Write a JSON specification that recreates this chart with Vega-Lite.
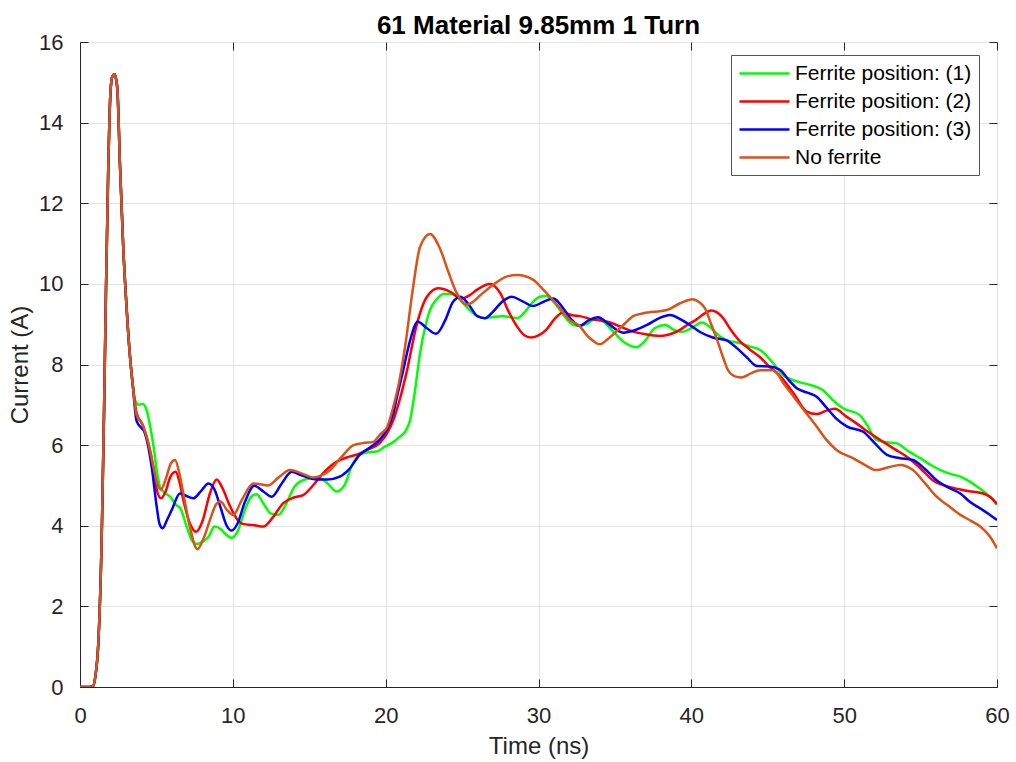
{
  "$schema": "https://vega.github.io/schema/vega-lite/v6.json",
  "width": 917,
  "height": 645,
  "autosize": "none",
  "padding": {"left": 80, "top": 42, "right": 19, "bottom": 75},
  "background": "white",
  "config": {
    "font": "Liberation Sans",
    "view": {"stroke": "#262626", "strokeWidth": 1},
    "axis": {"labelColor": "#262626", "titleColor": "#262626", "domainColor": "#262626", "tickColor": "#262626", "gridColor": "#e3e3e3", "labelFont": "Liberation Sans", "titleFont": "Liberation Sans", "titleFontWeight": "normal"}
  },
  "title": {"text": "61 Material 9.85mm 1 Turn", "fontSize": 26, "fontWeight": "bold", "color": "#000000", "font": "Liberation Sans", "offset": -8, "anchor": "middle"},
  "resolve": {"axis": {"x": "independent", "y": "independent"}},
  "data": {"values": [
    {"series":"Ferrite position: (1)","time":0,"current":0},{"series":"Ferrite position: (1)","time":0.6,"current":0},{"series":"Ferrite position: (1)","time":0.85,"current":0.02},{"series":"Ferrite position: (1)","time":1.0,"current":0.25},{"series":"Ferrite position: (1)","time":1.2,"current":1.1},{"series":"Ferrite position: (1)","time":1.42,"current":3.7},{"series":"Ferrite position: (1)","time":1.57,"current":6.75},{"series":"Ferrite position: (1)","time":1.7,"current":9.85},{"series":"Ferrite position: (1)","time":1.85,"current":12.9},{"series":"Ferrite position: (1)","time":2.0,"current":14.8},{"series":"Ferrite position: (1)","time":2.12,"current":15.15},{"series":"Ferrite position: (1)","time":2.25,"current":15.2},{"series":"Ferrite position: (1)","time":2.35,"current":15.1},{"series":"Ferrite position: (1)","time":2.45,"current":14.8},{"series":"Ferrite position: (1)","time":2.62,"current":12.9},{"series":"Ferrite position: (1)","time":2.83,"current":10.9},{"series":"Ferrite position: (1)","time":3.05,"current":9.4},{"series":"Ferrite position: (1)","time":3.27,"current":8.2},{"series":"Ferrite position: (1)","time":3.45,"current":7.5},
    {"series":"Ferrite position: (1)","time":3.6,"current":7.12},{"series":"Ferrite position: (1)","time":3.85,"current":7.0},{"series":"Ferrite position: (1)","time":4.1,"current":7.02},{"series":"Ferrite position: (1)","time":4.36,"current":6.87},{"series":"Ferrite position: (1)","time":4.6,"current":6.45},{"series":"Ferrite position: (1)","time":4.8,"current":6.0},{"series":"Ferrite position: (1)","time":5.05,"current":5.3},{"series":"Ferrite position: (1)","time":5.25,"current":4.95},{"series":"Ferrite position: (1)","time":5.6,"current":4.8},{"series":"Ferrite position: (1)","time":5.9,"current":4.72},{"series":"Ferrite position: (1)","time":6.33,"current":4.5},{"series":"Ferrite position: (1)","time":6.54,"current":4.45},{"series":"Ferrite position: (1)","time":6.98,"current":3.98},{"series":"Ferrite position: (1)","time":7.3,"current":3.65},{"series":"Ferrite position: (1)","time":7.63,"current":3.55},{"series":"Ferrite position: (1)","time":8.0,"current":3.6},{"series":"Ferrite position: (1)","time":8.4,"current":3.72},{"series":"Ferrite position: (1)","time":8.8,"current":3.98},{"series":"Ferrite position: (1)","time":9.2,"current":3.92},{"series":"Ferrite position: (1)","time":9.5,"current":3.8},{"series":"Ferrite position: (1)","time":9.92,"current":3.7},{"series":"Ferrite position: (1)","time":10.3,"current":3.85},{"series":"Ferrite position: (1)","time":10.8,"current":4.4},{"series":"Ferrite position: (1)","time":11.2,"current":4.72},{"series":"Ferrite position: (1)","time":11.56,"current":4.78},{"series":"Ferrite position: (1)","time":12.0,"current":4.55},{"series":"Ferrite position: (1)","time":12.5,"current":4.3},{"series":"Ferrite position: (1)","time":12.98,"current":4.27},{"series":"Ferrite position: (1)","time":13.5,"current":4.55},{"series":"Ferrite position: (1)","time":14.0,"current":4.95},{"series":"Ferrite position: (1)","time":14.6,"current":5.13},{"series":"Ferrite position: (1)","time":15.2,"current":5.18},{"series":"Ferrite position: (1)","time":15.7,"current":5.18},{"series":"Ferrite position: (1)","time":16.2,"current":5.05},{"series":"Ferrite position: (1)","time":16.8,"current":4.85},{"series":"Ferrite position: (1)","time":17.3,"current":5.0},{"series":"Ferrite position: (1)","time":17.8,"current":5.5},{"series":"Ferrite position: (1)","time":18.3,"current":5.76},{"series":"Ferrite position: (1)","time":18.8,"current":5.82},{"series":"Ferrite position: (1)","time":19.4,"current":5.84},{"series":"Ferrite position: (1)","time":19.9,"current":5.95},{"series":"Ferrite position: (1)","time":20.4,"current":6.05},{"series":"Ferrite position: (1)","time":20.9,"current":6.2},{"series":"Ferrite position: (1)","time":21.3,"current":6.35},{"series":"Ferrite position: (1)","time":21.6,"current":6.62},{"series":"Ferrite position: (1)","time":21.9,"current":7.3},{"series":"Ferrite position: (1)","time":22.25,"current":8.28},{"series":"Ferrite position: (1)","time":22.6,"current":8.95},{"series":"Ferrite position: (1)","time":22.9,"current":9.35},{"series":"Ferrite position: (1)","time":23.3,"current":9.6},{"series":"Ferrite position: (1)","time":23.8,"current":9.75},{"series":"Ferrite position: (1)","time":24.2,"current":9.75},{"series":"Ferrite position: (1)","time":24.6,"current":9.7},{"series":"Ferrite position: (1)","time":25.0,"current":9.55},{"series":"Ferrite position: (1)","time":25.5,"current":9.35},{"series":"Ferrite position: (1)","time":26.0,"current":9.2},{"series":"Ferrite position: (1)","time":26.5,"current":9.15},{"series":"Ferrite position: (1)","time":27.0,"current":9.18},{"series":"Ferrite position: (1)","time":27.7,"current":9.2},{"series":"Ferrite position: (1)","time":28.2,"current":9.17},{"series":"Ferrite position: (1)","time":28.6,"current":9.15},{"series":"Ferrite position: (1)","time":29.1,"current":9.3},{"series":"Ferrite position: (1)","time":29.66,"current":9.56},{"series":"Ferrite position: (1)","time":30.1,"current":9.68},{"series":"Ferrite position: (1)","time":30.5,"current":9.7},{"series":"Ferrite position: (1)","time":31.0,"current":9.55},{"series":"Ferrite position: (1)","time":31.4,"current":9.35},{"series":"Ferrite position: (1)","time":31.9,"current":9.1},{"series":"Ferrite position: (1)","time":32.3,"current":8.98},{"series":"Ferrite position: (1)","time":32.7,"current":8.96},{"series":"Ferrite position: (1)","time":33.15,"current":9.0},{"series":"Ferrite position: (1)","time":33.8,"current":9.15},{"series":"Ferrite position: (1)","time":34.3,"current":9.05},{"series":"Ferrite position: (1)","time":34.9,"current":8.81},{"series":"Ferrite position: (1)","time":35.6,"current":8.55},{"series":"Ferrite position: (1)","time":36.4,"current":8.43},{"series":"Ferrite position: (1)","time":37.0,"current":8.6},{"series":"Ferrite position: (1)","time":37.6,"current":8.9},{"series":"Ferrite position: (1)","time":38.3,"current":8.98},{"series":"Ferrite position: (1)","time":38.9,"current":8.85},{"series":"Ferrite position: (1)","time":39.4,"current":8.81},{"series":"Ferrite position: (1)","time":40.0,"current":8.9},{"series":"Ferrite position: (1)","time":40.7,"current":9.04},{"series":"Ferrite position: (1)","time":41.3,"current":8.9},{"series":"Ferrite position: (1)","time":41.9,"current":8.69},{"series":"Ferrite position: (1)","time":42.5,"current":8.58},{"series":"Ferrite position: (1)","time":43.2,"current":8.53},{"series":"Ferrite position: (1)","time":43.8,"current":8.45},{"series":"Ferrite position: (1)","time":44.5,"current":8.36},{"series":"Ferrite position: (1)","time":45.2,"current":8.1},{"series":"Ferrite position: (1)","time":46.0,"current":7.74},{"series":"Ferrite position: (1)","time":46.9,"current":7.58},{"series":"Ferrite position: (1)","time":47.8,"current":7.49},{"series":"Ferrite position: (1)","time":48.6,"current":7.37},{"series":"Ferrite position: (1)","time":49.3,"current":7.1},{"series":"Ferrite position: (1)","time":49.95,"current":6.91},{"series":"Ferrite position: (1)","time":51.0,"current":6.75},{"series":"Ferrite position: (1)","time":51.5,"current":6.5},{"series":"Ferrite position: (1)","time":52.1,"current":6.13},{"series":"Ferrite position: (1)","time":52.8,"current":6.07},{"series":"Ferrite position: (1)","time":53.4,"current":6.05},{"series":"Ferrite position: (1)","time":54.2,"current":5.85},{"series":"Ferrite position: (1)","time":55.0,"current":5.67},{"series":"Ferrite position: (1)","time":55.7,"current":5.5},{"series":"Ferrite position: (1)","time":56.3,"current":5.38},{"series":"Ferrite position: (1)","time":57.0,"current":5.28},{"series":"Ferrite position: (1)","time":57.6,"current":5.22},{"series":"Ferrite position: (1)","time":58.2,"current":5.1},{"series":"Ferrite position: (1)","time":58.7,"current":4.97},{"series":"Ferrite position: (1)","time":59.3,"current":4.8},{"series":"Ferrite position: (1)","time":60,"current":4.55},
    {"series":"Ferrite position: (2)","time":0,"current":0},{"series":"Ferrite position: (2)","time":0.6,"current":0},{"series":"Ferrite position: (2)","time":0.85,"current":0.02},{"series":"Ferrite position: (2)","time":1.0,"current":0.25},{"series":"Ferrite position: (2)","time":1.2,"current":1.1},{"series":"Ferrite position: (2)","time":1.42,"current":3.7},{"series":"Ferrite position: (2)","time":1.57,"current":6.75},{"series":"Ferrite position: (2)","time":1.7,"current":9.85},{"series":"Ferrite position: (2)","time":1.85,"current":12.9},{"series":"Ferrite position: (2)","time":2.0,"current":14.8},{"series":"Ferrite position: (2)","time":2.12,"current":15.15},{"series":"Ferrite position: (2)","time":2.25,"current":15.2},{"series":"Ferrite position: (2)","time":2.35,"current":15.1},{"series":"Ferrite position: (2)","time":2.45,"current":14.8},{"series":"Ferrite position: (2)","time":2.62,"current":12.9},{"series":"Ferrite position: (2)","time":2.83,"current":10.9},{"series":"Ferrite position: (2)","time":3.05,"current":9.4},{"series":"Ferrite position: (2)","time":3.27,"current":8.2},{"series":"Ferrite position: (2)","time":3.45,"current":7.5},
    {"series":"Ferrite position: (2)","time":3.7,"current":6.8},{"series":"Ferrite position: (2)","time":4.1,"current":6.5},{"series":"Ferrite position: (2)","time":4.47,"current":6.05},{"series":"Ferrite position: (2)","time":4.8,"current":5.46},{"series":"Ferrite position: (2)","time":5.05,"current":4.85},{"series":"Ferrite position: (2)","time":5.3,"current":4.68},{"series":"Ferrite position: (2)","time":5.6,"current":4.85},{"series":"Ferrite position: (2)","time":5.9,"current":5.2},{"series":"Ferrite position: (2)","time":6.26,"current":5.34},{"series":"Ferrite position: (2)","time":6.5,"current":5.1},{"series":"Ferrite position: (2)","time":6.76,"current":4.64},{"series":"Ferrite position: (2)","time":7.2,"current":4.05},{"series":"Ferrite position: (2)","time":7.6,"current":3.85},{"series":"Ferrite position: (2)","time":8.0,"current":4.1},{"series":"Ferrite position: (2)","time":8.5,"current":4.8},{"series":"Ferrite position: (2)","time":8.94,"current":5.15},{"series":"Ferrite position: (2)","time":9.3,"current":4.95},{"series":"Ferrite position: (2)","time":9.8,"current":4.5},{"series":"Ferrite position: (2)","time":10.3,"current":4.15},{"series":"Ferrite position: (2)","time":10.7,"current":4.04},{"series":"Ferrite position: (2)","time":11.3,"current":4.02},{"series":"Ferrite position: (2)","time":12.0,"current":3.98},{"series":"Ferrite position: (2)","time":12.6,"current":4.2},{"series":"Ferrite position: (2)","time":13.3,"current":4.56},{"series":"Ferrite position: (2)","time":14.0,"current":4.7},{"series":"Ferrite position: (2)","time":14.6,"current":4.76},{"series":"Ferrite position: (2)","time":15.2,"current":4.98},{"series":"Ferrite position: (2)","time":15.9,"current":5.3},{"series":"Ferrite position: (2)","time":16.8,"current":5.59},{"series":"Ferrite position: (2)","time":17.5,"current":5.7},{"series":"Ferrite position: (2)","time":18.1,"current":5.76},{"series":"Ferrite position: (2)","time":18.8,"current":5.88},{"series":"Ferrite position: (2)","time":19.6,"current":6.05},{"series":"Ferrite position: (2)","time":20.1,"current":6.3},{"series":"Ferrite position: (2)","time":20.5,"current":6.62},{"series":"Ferrite position: (2)","time":20.9,"current":7.1},{"series":"Ferrite position: (2)","time":21.4,"current":7.86},{"series":"Ferrite position: (2)","time":22.0,"current":8.94},{"series":"Ferrite position: (2)","time":22.7,"current":9.68},{"series":"Ferrite position: (2)","time":23.45,"current":9.89},{"series":"Ferrite position: (2)","time":24.2,"current":9.81},{"series":"Ferrite position: (2)","time":24.97,"current":9.64},{"series":"Ferrite position: (2)","time":25.5,"current":9.72},{"series":"Ferrite position: (2)","time":25.96,"current":9.85},{"series":"Ferrite position: (2)","time":26.83,"current":10.0},{"series":"Ferrite position: (2)","time":27.5,"current":9.77},{"series":"Ferrite position: (2)","time":28.0,"current":9.35},{"series":"Ferrite position: (2)","time":28.6,"current":8.94},{"series":"Ferrite position: (2)","time":29.1,"current":8.72},{"series":"Ferrite position: (2)","time":29.55,"current":8.67},{"series":"Ferrite position: (2)","time":30.0,"current":8.72},{"series":"Ferrite position: (2)","time":30.5,"current":8.86},{"series":"Ferrite position: (2)","time":31.1,"current":9.15},{"series":"Ferrite position: (2)","time":31.6,"current":9.29},{"series":"Ferrite position: (2)","time":32.2,"current":9.22},{"series":"Ferrite position: (2)","time":32.7,"current":9.2},{"series":"Ferrite position: (2)","time":33.5,"current":9.12},{"series":"Ferrite position: (2)","time":34.5,"current":9.06},{"series":"Ferrite position: (2)","time":35.3,"current":8.95},{"series":"Ferrite position: (2)","time":36.0,"current":8.84},{"series":"Ferrite position: (2)","time":37.0,"current":8.75},{"series":"Ferrite position: (2)","time":37.95,"current":8.71},{"series":"Ferrite position: (2)","time":38.6,"current":8.75},{"series":"Ferrite position: (2)","time":39.26,"current":8.86},{"series":"Ferrite position: (2)","time":39.8,"current":9.0},{"series":"Ferrite position: (2)","time":40.35,"current":9.12},{"series":"Ferrite position: (2)","time":40.8,"current":9.25},{"series":"Ferrite position: (2)","time":41.3,"current":9.34},{"series":"Ferrite position: (2)","time":42.0,"current":9.19},{"series":"Ferrite position: (2)","time":42.6,"current":8.85},{"series":"Ferrite position: (2)","time":43.2,"current":8.57},{"series":"Ferrite position: (2)","time":43.8,"current":8.38},{"series":"Ferrite position: (2)","time":44.5,"current":8.18},{"series":"Ferrite position: (2)","time":45.1,"current":7.95},{"series":"Ferrite position: (2)","time":45.8,"current":7.72},{"series":"Ferrite position: (2)","time":46.7,"current":7.28},{"series":"Ferrite position: (2)","time":47.55,"current":6.83},{"series":"Ferrite position: (2)","time":48.2,"current":6.77},{"series":"Ferrite position: (2)","time":48.8,"current":6.85},{"series":"Ferrite position: (2)","time":49.4,"current":6.9},{"series":"Ferrite position: (2)","time":50.1,"current":6.72},{"series":"Ferrite position: (2)","time":50.8,"current":6.54},{"series":"Ferrite position: (2)","time":51.6,"current":6.32},{"series":"Ferrite position: (2)","time":52.56,"current":6.08},{"series":"Ferrite position: (2)","time":53.3,"current":5.9},{"series":"Ferrite position: (2)","time":54.1,"current":5.71},{"series":"Ferrite position: (2)","time":55.0,"current":5.42},{"series":"Ferrite position: (2)","time":55.8,"current":5.13},{"series":"Ferrite position: (2)","time":56.7,"current":4.98},{"series":"Ferrite position: (2)","time":57.6,"current":4.9},{"series":"Ferrite position: (2)","time":58.3,"current":4.85},{"series":"Ferrite position: (2)","time":59.1,"current":4.8},{"series":"Ferrite position: (2)","time":59.6,"current":4.7},{"series":"Ferrite position: (2)","time":60,"current":4.53},
    {"series":"Ferrite position: (3)","time":0,"current":0},{"series":"Ferrite position: (3)","time":0.6,"current":0},{"series":"Ferrite position: (3)","time":0.85,"current":0.02},{"series":"Ferrite position: (3)","time":1.0,"current":0.25},{"series":"Ferrite position: (3)","time":1.2,"current":1.1},{"series":"Ferrite position: (3)","time":1.42,"current":3.7},{"series":"Ferrite position: (3)","time":1.57,"current":6.75},{"series":"Ferrite position: (3)","time":1.7,"current":9.85},{"series":"Ferrite position: (3)","time":1.85,"current":12.9},{"series":"Ferrite position: (3)","time":2.0,"current":14.8},{"series":"Ferrite position: (3)","time":2.12,"current":15.15},{"series":"Ferrite position: (3)","time":2.25,"current":15.2},{"series":"Ferrite position: (3)","time":2.35,"current":15.1},{"series":"Ferrite position: (3)","time":2.45,"current":14.8},{"series":"Ferrite position: (3)","time":2.62,"current":12.9},{"series":"Ferrite position: (3)","time":2.83,"current":10.9},{"series":"Ferrite position: (3)","time":3.05,"current":9.4},{"series":"Ferrite position: (3)","time":3.27,"current":8.2},{"series":"Ferrite position: (3)","time":3.45,"current":7.5},
    {"series":"Ferrite position: (3)","time":3.7,"current":6.6},{"series":"Ferrite position: (3)","time":4.25,"current":6.29},{"series":"Ferrite position: (3)","time":4.69,"current":5.46},{"series":"Ferrite position: (3)","time":5.02,"current":4.47},{"series":"Ferrite position: (3)","time":5.2,"current":4.05},{"series":"Ferrite position: (3)","time":5.41,"current":3.94},{"series":"Ferrite position: (3)","time":5.7,"current":4.15},{"series":"Ferrite position: (3)","time":6.0,"current":4.39},{"series":"Ferrite position: (3)","time":6.54,"current":4.8},{"series":"Ferrite position: (3)","time":6.9,"current":4.75},{"series":"Ferrite position: (3)","time":7.41,"current":4.68},{"series":"Ferrite position: (3)","time":7.9,"current":4.85},{"series":"Ferrite position: (3)","time":8.4,"current":5.05},{"series":"Ferrite position: (3)","time":8.8,"current":4.9},{"series":"Ferrite position: (3)","time":9.2,"current":4.45},{"series":"Ferrite position: (3)","time":9.6,"current":4.0},{"series":"Ferrite position: (3)","time":9.92,"current":3.88},{"series":"Ferrite position: (3)","time":10.3,"current":4.05},{"series":"Ferrite position: (3)","time":10.8,"current":4.6},{"series":"Ferrite position: (3)","time":11.4,"current":4.99},{"series":"Ferrite position: (3)","time":12.0,"current":4.85},{"series":"Ferrite position: (3)","time":12.54,"current":4.72},{"series":"Ferrite position: (3)","time":13.2,"current":5.05},{"series":"Ferrite position: (3)","time":13.85,"current":5.34},{"series":"Ferrite position: (3)","time":14.5,"current":5.25},{"series":"Ferrite position: (3)","time":15.5,"current":5.15},{"series":"Ferrite position: (3)","time":16.2,"current":5.15},{"series":"Ferrite position: (3)","time":17.0,"current":5.22},{"series":"Ferrite position: (3)","time":17.6,"current":5.4},{"series":"Ferrite position: (3)","time":18.3,"current":5.76},{"series":"Ferrite position: (3)","time":19.0,"current":5.95},{"series":"Ferrite position: (3)","time":19.6,"current":6.13},{"series":"Ferrite position: (3)","time":20.1,"current":6.4},{"series":"Ferrite position: (3)","time":20.5,"current":6.79},{"series":"Ferrite position: (3)","time":20.8,"current":7.3},{"series":"Ferrite position: (3)","time":21.15,"current":7.86},{"series":"Ferrite position: (3)","time":21.6,"current":8.6},{"series":"Ferrite position: (3)","time":22.1,"current":9.06},{"series":"Ferrite position: (3)","time":22.7,"current":8.9},{"series":"Ferrite position: (3)","time":23.3,"current":8.76},{"series":"Ferrite position: (3)","time":23.9,"current":9.1},{"series":"Ferrite position: (3)","time":24.4,"current":9.55},{"series":"Ferrite position: (3)","time":24.9,"current":9.68},{"series":"Ferrite position: (3)","time":25.5,"current":9.45},{"series":"Ferrite position: (3)","time":26.0,"current":9.2},{"series":"Ferrite position: (3)","time":26.5,"current":9.15},{"series":"Ferrite position: (3)","time":27.0,"current":9.3},{"series":"Ferrite position: (3)","time":27.6,"current":9.55},{"series":"Ferrite position: (3)","time":28.25,"current":9.68},{"series":"Ferrite position: (3)","time":28.9,"current":9.58},{"series":"Ferrite position: (3)","time":29.66,"current":9.45},{"series":"Ferrite position: (3)","time":30.3,"current":9.55},{"series":"Ferrite position: (3)","time":30.97,"current":9.64},{"series":"Ferrite position: (3)","time":31.3,"current":9.55},{"series":"Ferrite position: (3)","time":31.7,"current":9.35},{"series":"Ferrite position: (3)","time":32.2,"current":9.1},{"series":"Ferrite position: (3)","time":32.7,"current":8.96},{"series":"Ferrite position: (3)","time":33.3,"current":9.1},{"series":"Ferrite position: (3)","time":33.9,"current":9.17},{"series":"Ferrite position: (3)","time":34.6,"current":9.0},{"series":"Ferrite position: (3)","time":35.55,"current":8.79},{"series":"Ferrite position: (3)","time":36.3,"current":8.85},{"series":"Ferrite position: (3)","time":37.1,"current":8.98},{"series":"Ferrite position: (3)","time":37.9,"current":9.15},{"series":"Ferrite position: (3)","time":38.6,"current":9.23},{"series":"Ferrite position: (3)","time":39.3,"current":9.12},{"series":"Ferrite position: (3)","time":39.9,"current":8.98},{"series":"Ferrite position: (3)","time":40.6,"current":8.8},{"series":"Ferrite position: (3)","time":41.4,"current":8.67},{"series":"Ferrite position: (3)","time":42.3,"current":8.6},{"series":"Ferrite position: (3)","time":43.0,"current":8.4},{"series":"Ferrite position: (3)","time":43.6,"current":8.19},{"series":"Ferrite position: (3)","time":44.3,"current":7.96},{"series":"Ferrite position: (3)","time":45.1,"current":7.95},{"series":"Ferrite position: (3)","time":45.8,"current":7.87},{"series":"Ferrite position: (3)","time":46.4,"current":7.6},{"series":"Ferrite position: (3)","time":46.9,"current":7.41},{"series":"Ferrite position: (3)","time":47.6,"current":7.3},{"series":"Ferrite position: (3)","time":48.2,"current":7.2},{"series":"Ferrite position: (3)","time":48.8,"current":6.95},{"series":"Ferrite position: (3)","time":49.5,"current":6.65},{"series":"Ferrite position: (3)","time":50.2,"current":6.46},{"series":"Ferrite position: (3)","time":51.25,"current":6.33},{"series":"Ferrite position: (3)","time":52.0,"current":6.05},{"series":"Ferrite position: (3)","time":52.8,"current":5.76},{"series":"Ferrite position: (3)","time":53.6,"current":5.68},{"series":"Ferrite position: (3)","time":54.5,"current":5.63},{"series":"Ferrite position: (3)","time":55.3,"current":5.4},{"series":"Ferrite position: (3)","time":56.05,"current":5.13},{"series":"Ferrite position: (3)","time":56.8,"current":4.95},{"series":"Ferrite position: (3)","time":57.6,"current":4.8},{"series":"Ferrite position: (3)","time":58.2,"current":4.6},{"series":"Ferrite position: (3)","time":58.9,"current":4.43},{"series":"Ferrite position: (3)","time":59.5,"current":4.28},{"series":"Ferrite position: (3)","time":60,"current":4.14},
    {"series":"No ferrite","time":0,"current":0},{"series":"No ferrite","time":0.6,"current":0},{"series":"No ferrite","time":0.85,"current":0.02},{"series":"No ferrite","time":1.0,"current":0.25},{"series":"No ferrite","time":1.2,"current":1.1},{"series":"No ferrite","time":1.42,"current":3.7},{"series":"No ferrite","time":1.57,"current":6.75},{"series":"No ferrite","time":1.7,"current":9.85},{"series":"No ferrite","time":1.85,"current":12.9},{"series":"No ferrite","time":2.0,"current":14.8},{"series":"No ferrite","time":2.12,"current":15.15},{"series":"No ferrite","time":2.25,"current":15.2},{"series":"No ferrite","time":2.35,"current":15.1},{"series":"No ferrite","time":2.45,"current":14.8},{"series":"No ferrite","time":2.62,"current":12.9},{"series":"No ferrite","time":2.83,"current":10.9},{"series":"No ferrite","time":3.05,"current":9.4},{"series":"No ferrite","time":3.27,"current":8.2},{"series":"No ferrite","time":3.45,"current":7.5},
    {"series":"No ferrite","time":3.7,"current":6.75},{"series":"No ferrite","time":4.1,"current":6.5},{"series":"No ferrite","time":4.47,"current":6.05},{"series":"No ferrite","time":4.8,"current":5.46},{"series":"No ferrite","time":5.05,"current":5.05},{"series":"No ferrite","time":5.3,"current":4.9},{"series":"No ferrite","time":5.6,"current":5.15},{"series":"No ferrite","time":5.95,"current":5.55},{"series":"No ferrite","time":6.22,"current":5.63},{"series":"No ferrite","time":6.5,"current":5.3},{"series":"No ferrite","time":6.76,"current":4.8},{"series":"No ferrite","time":7.2,"current":3.95},{"series":"No ferrite","time":7.68,"current":3.42},{"series":"No ferrite","time":8.1,"current":3.7},{"series":"No ferrite","time":8.5,"current":4.14},{"series":"No ferrite","time":8.94,"current":4.55},{"series":"No ferrite","time":9.2,"current":4.6},{"series":"No ferrite","time":9.6,"current":4.4},{"series":"No ferrite","time":10.03,"current":4.27},{"series":"No ferrite","time":10.6,"current":4.65},{"series":"No ferrite","time":11.34,"current":5.05},{"series":"No ferrite","time":11.8,"current":5.03},{"series":"No ferrite","time":12.3,"current":5.0},{"series":"No ferrite","time":13.0,"current":5.2},{"series":"No ferrite","time":13.74,"current":5.38},{"series":"No ferrite","time":14.5,"current":5.3},{"series":"No ferrite","time":15.27,"current":5.2},{"series":"No ferrite","time":15.8,"current":5.25},{"series":"No ferrite","time":16.36,"current":5.38},{"series":"No ferrite","time":17.1,"current":5.7},{"series":"No ferrite","time":17.9,"current":6.0},{"series":"No ferrite","time":18.5,"current":6.05},{"series":"No ferrite","time":19.2,"current":6.08},{"series":"No ferrite","time":19.6,"current":6.25},{"series":"No ferrite","time":20.1,"current":6.45},{"series":"No ferrite","time":20.5,"current":6.95},{"series":"No ferrite","time":20.9,"current":7.6},{"series":"No ferrite","time":21.27,"current":8.44},{"series":"No ferrite","time":21.8,"current":9.93},{"series":"No ferrite","time":22.25,"current":10.92},{"series":"No ferrite","time":22.9,"current":11.24},{"series":"No ferrite","time":23.55,"current":10.88},{"series":"No ferrite","time":24.1,"current":10.3},{"series":"No ferrite","time":24.65,"current":9.77},{"series":"No ferrite","time":25.3,"current":9.48},{"series":"No ferrite","time":25.7,"current":9.55},{"series":"No ferrite","time":26.2,"current":9.72},{"series":"No ferrite","time":27.15,"current":10.01},{"series":"No ferrite","time":27.9,"current":10.18},{"series":"No ferrite","time":28.6,"current":10.22},{"series":"No ferrite","time":29.66,"current":10.1},{"series":"No ferrite","time":30.2,"current":9.9},{"series":"No ferrite","time":30.75,"current":9.68},{"series":"No ferrite","time":31.4,"current":9.4},{"series":"No ferrite","time":32.06,"current":9.1},{"series":"No ferrite","time":32.7,"current":8.95},{"series":"No ferrite","time":33.15,"current":8.73},{"series":"No ferrite","time":33.6,"current":8.58},{"series":"No ferrite","time":34.0,"current":8.5},{"series":"No ferrite","time":34.6,"current":8.65},{"series":"No ferrite","time":35.55,"current":8.98},{"series":"No ferrite","time":36.2,"current":9.2},{"series":"No ferrite","time":36.86,"current":9.27},{"series":"No ferrite","time":38.4,"current":9.35},{"series":"No ferrite","time":39.26,"current":9.52},{"series":"No ferrite","time":40.1,"current":9.62},{"series":"No ferrite","time":40.5,"current":9.55},{"series":"No ferrite","time":40.9,"current":9.39},{"series":"No ferrite","time":41.3,"current":9.0},{"series":"No ferrite","time":41.7,"current":8.6},{"series":"No ferrite","time":42.1,"current":8.15},{"series":"No ferrite","time":42.4,"current":7.86},{"series":"No ferrite","time":42.9,"current":7.7},{"series":"No ferrite","time":43.3,"current":7.68},{"series":"No ferrite","time":43.9,"current":7.78},{"series":"No ferrite","time":44.5,"current":7.86},{"series":"No ferrite","time":45.4,"current":7.86},{"series":"No ferrite","time":46.0,"current":7.55},{"series":"No ferrite","time":46.7,"current":7.2},{"series":"No ferrite","time":47.4,"current":6.85},{"series":"No ferrite","time":48.2,"current":6.46},{"series":"No ferrite","time":48.8,"current":6.15},{"series":"No ferrite","time":49.5,"current":5.88},{"series":"No ferrite","time":50.6,"current":5.67},{"series":"No ferrite","time":51.4,"current":5.5},{"series":"No ferrite","time":52.1,"current":5.38},{"series":"No ferrite","time":52.9,"current":5.45},{"series":"No ferrite","time":53.65,"current":5.51},{"series":"No ferrite","time":54.5,"current":5.38},{"series":"No ferrite","time":55.3,"current":5.05},{"series":"No ferrite","time":56.05,"current":4.72},{"series":"No ferrite","time":56.8,"current":4.5},{"series":"No ferrite","time":57.6,"current":4.27},{"series":"No ferrite","time":58.3,"current":4.12},{"series":"No ferrite","time":58.9,"current":3.98},{"series":"No ferrite","time":59.5,"current":3.75},{"series":"No ferrite","time":60,"current":3.44}
  ]},
  "layer": [
    {
      "mark": {"type": "line", "strokeWidth": 2.5, "interpolate": "monotone", "clip": true},
      "encoding": {
        "x": {"field": "time", "type": "quantitative", "scale": {"domain": [0, 60], "nice": false},
          "axis": {"orient": "bottom", "title": "Time (ns)", "values": [0,10,20,30,40,50,60], "labelFontSize": 22, "titleFontSize": 24, "tickSize": -8, "labelPadding": 26, "titlePadding": 8, "grid": true, "labelFlush": false}},
        "y": {"field": "current", "type": "quantitative", "scale": {"domain": [0, 16], "nice": false},
          "axis": {"orient": "left", "title": "Current (A)", "values": [0,2,4,6,8,10,12,14,16], "labelFontSize": 22, "titleFontSize": 24, "tickSize": -8, "labelPadding": 25, "titlePadding": 6, "grid": true, "labelFlush": false}},
        "color": {"field": "series", "type": "nominal",
          "scale": {"domain": ["Ferrite position: (1)", "Ferrite position: (2)", "Ferrite position: (3)", "No ferrite"], "range": ["#00ff00", "#ff0000", "#0000ff", "#d95319"]},
          "legend": {"title": null, "orient": "none", "legendX": 651, "legendY": 13, "fillColor": "white", "strokeColor": "#555555", "padding": 7, "labelFontSize": 21, "labelLimit": 400, "labelColor": "#000000", "labelFont": "Liberation Sans", "symbolType": "M-1,0H4", "symbolSize": 400, "symbolStrokeWidth": 2.5, "labelOffset": 34, "rowPadding": 6}}
      }
    },
    {
      "mark": {"type": "point", "opacity": 0},
      "encoding": {
        "x": {"field": "time", "type": "quantitative", "axis": {"orient": "top", "title": null, "labels": false, "grid": false, "domain": false, "values": [0,10,20,30,40,50,60], "tickSize": -8}},
        "y": {"field": "current", "type": "quantitative", "axis": {"orient": "right", "title": null, "labels": false, "grid": false, "domain": false, "values": [0,2,4,6,8,10,12,14,16], "tickSize": -8}}
      }
    }
  ]
}
